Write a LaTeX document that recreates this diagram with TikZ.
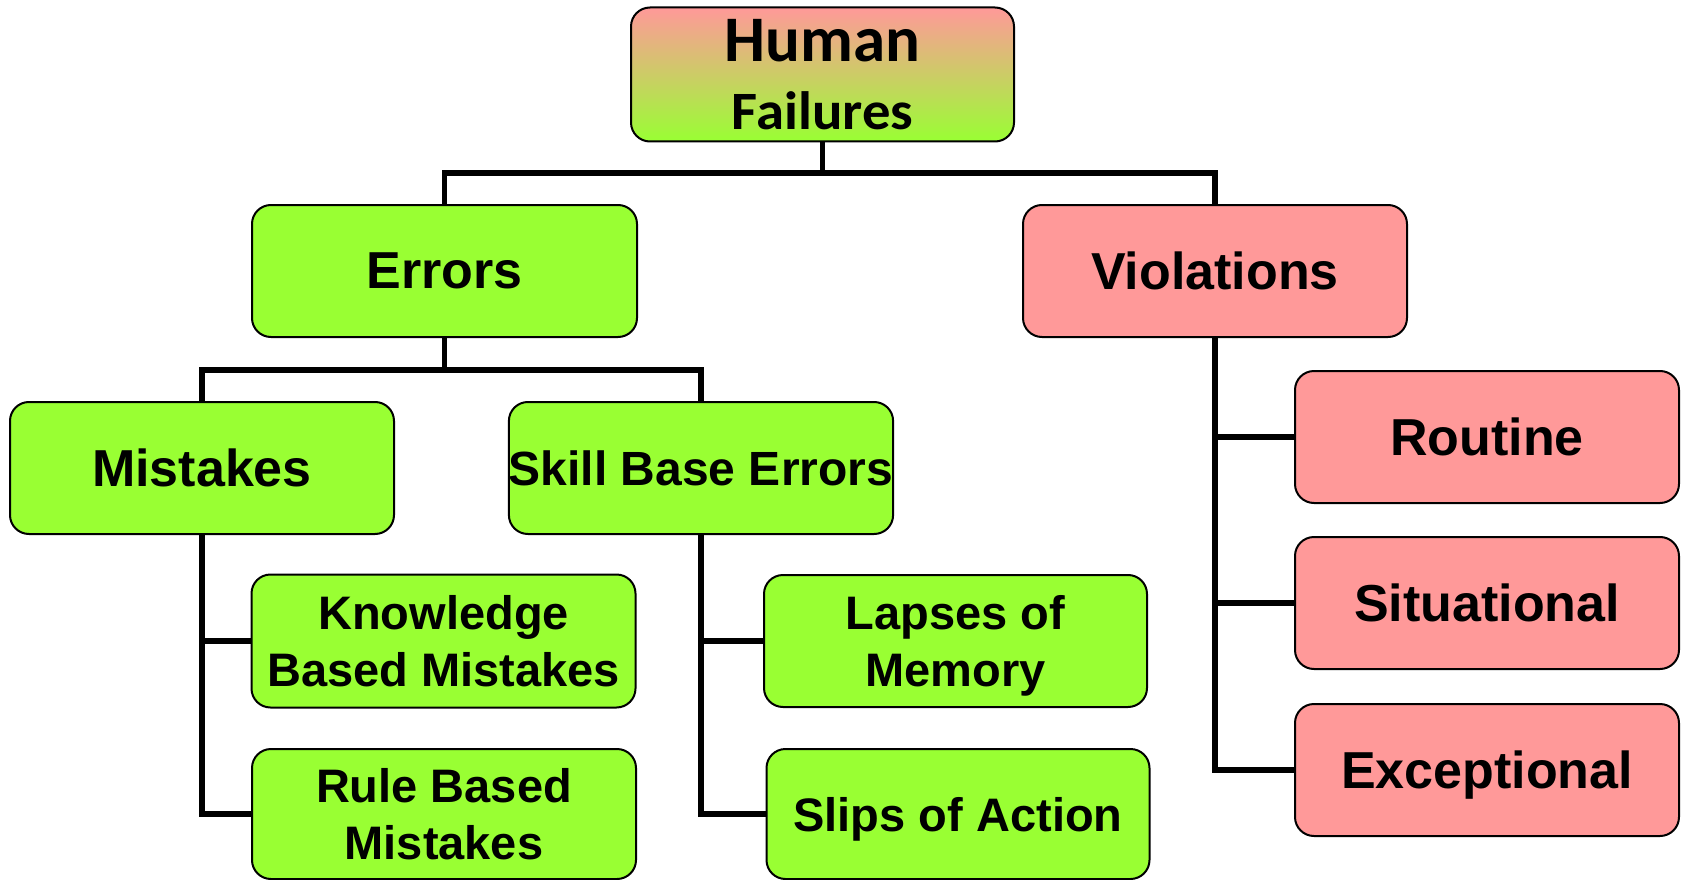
\documentclass[tikz,border=0pt]{standalone}
\usepackage{fontspec}
\setmainfont{Liberation Sans}
\newfontfamily\carlito{Carlito}
\usepackage{graphicx}
\definecolor{lgreen}{RGB}{153,255,51}
\definecolor{lpink}{RGB}{255,153,153}
\tikzset{
  box/.style={draw=black, line width=2pt, rounded corners=19pt, align=center,
    inner sep=0pt, text depth=0pt, font=\bfseries\fontsize{52}{60}\selectfont},
  gbox/.style={box, fill=lgreen},
  pbox/.style={box, fill=lpink},
  smalltext/.style={font=\bfseries\fontsize{47}{57}\selectfont},
  link/.style={line width=5.5pt, line join=miter},
}
\begin{document}
\begin{tikzpicture}[x=1pt,y=-1pt]
\useasboundingbox (0,0) rectangle (1682,880);
% connectors
\coordinate (hj) at (822.5,173);
\coordinate (ej) at (444.5,370);
% boxes
\node[box, top color=lpink, bottom color=lgreen, minimum width=383pt, minimum height=134pt,
  font=\carlito\bfseries\fontsize{65}{68}\selectfont] (human) at (822.5,74.5)
  {Human\\{\fontsize{54}{68}\selectfont\scalebox{1.05}[1]{Failures}}};
\node[gbox, minimum width=385pt, minimum height=132pt] (errors) at (444.5,271) {Errors};
\node[pbox, minimum width=384pt, minimum height=132pt] (violations) at (1215,271) {Violations};
\node[gbox, minimum width=384pt, minimum height=132pt] (mistakes) at (202,468) {Mistakes};
\node[gbox, smalltext, font=\bfseries\fontsize{48}{57}\selectfont, minimum width=383pt, minimum height=132pt] (skill) at (701,468) {Skill Base Errors};
\node[gbox, smalltext, minimum width=384pt, minimum height=133pt] (knowledge) at (443.5,641) {Knowledge\\Based Mistakes};
\node[gbox, smalltext, minimum width=384pt, minimum height=130pt] (rule) at (444,814) {Rule Based\\Mistakes};
\node[gbox, smalltext, minimum width=383pt, minimum height=132pt] (lapses) at (955.5,641) {Lapses of\\Memory};
\node[gbox, smalltext, minimum width=383pt, minimum height=130pt] (slips) at (958,814) {Slips of Action};
\node[pbox, minimum width=384pt, minimum height=132pt] (routine) at (1487,437) {Routine};
\node[pbox, minimum width=384pt, minimum height=132pt] (situational) at (1487,603) {Situational};
\node[pbox, minimum width=384pt, minimum height=132pt] (exceptional) at (1487,770) {Exceptional};
\draw[link] (human.south) -- (hj);
\draw[link] (errors.north) |- (hj) -| (violations.north);
\draw[link] (errors.south) -- (ej);
\draw[link] (mistakes.north) |- (ej) -| (skill.north);
\draw[link] (mistakes.south) |- (knowledge.west);
\draw[link] (mistakes.south) |- (rule.west);
\draw[link] (skill.south) |- (lapses.west);
\draw[link] (skill.south) |- (slips.west);
\draw[link] (violations.south) |- (routine.west);
\draw[link] (violations.south) |- (situational.west);
\draw[link] (violations.south) |- (exceptional.west);
\end{tikzpicture}
\end{document}
